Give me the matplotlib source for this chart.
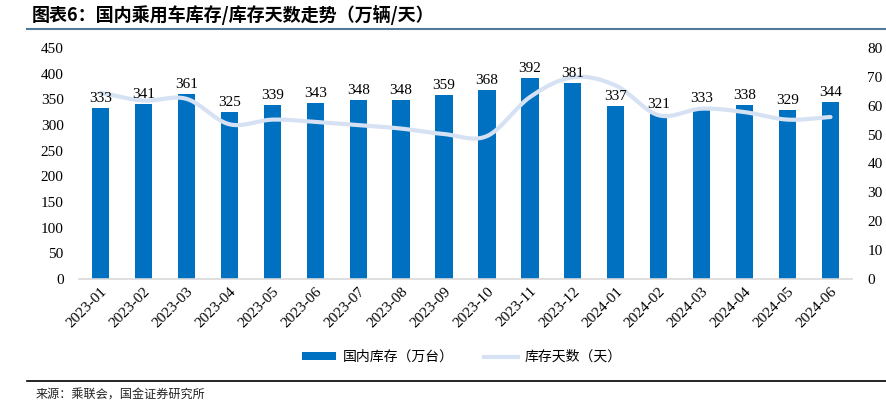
import numpy as np
import matplotlib
matplotlib.use("Agg")
import matplotlib.pyplot as plt
from matplotlib.lines import Line2D
from matplotlib.patches import Patch

months = ["2023-01","2023-02","2023-03","2023-04","2023-05","2023-06","2023-07","2023-08","2023-09",
          "2023-10","2023-11","2023-12","2024-01","2024-02","2024-03","2024-04","2024-05","2024-06"]
inventory = [333, 341, 361, 325, 339, 343, 348, 348, 359, 368, 392, 381, 337, 321, 333, 338, 329, 344]
days = [64.5, 61.8, 62.4, 53.6, 55.2, 54.4, 53.3, 52.1, 50.2, 49.5, 63.0, 69.9, 67.0, 56.7, 59.0, 57.8, 55.2, 56.1]
left_ticks = [0, 50, 100, 150, 200, 250, 300, 350, 400, 450]
right_ticks = [0, 10, 20, 30, 40, 50, 60, 70, 80]

title = "图表6：国内乘用车库存/库存天数走势（万辆/天）"
source = "来源：乘联会，国金证券研究所"
bar_label = "国内库存（万台）"
line_label = "库存天数（天）"

BAR = "#0070C0"
LINE = "#D6E2F3"
serif = ["Liberation Serif", "DejaVu Serif"]
cjk = ["Noto Sans CJK SC", "DejaVu Sans"]
FS = 11

def catmull_rom(x, y, n=20):
    x = np.asarray(x, float); y = np.asarray(y, float)
    px = np.concatenate([[2*x[0]-x[1]], x, [2*x[-1]-x[-2]]])
    py = np.concatenate([[2*y[0]-y[1]], y, [2*y[-1]-y[-2]]])
    xs, ys = [], []
    for i in range(1, len(px)-2):
        t = np.linspace(0, 1, n, endpoint=False)
        for arr, out in ((px, xs), (py, ys)):
            p0, p1, p2, p3 = arr[i-1], arr[i], arr[i+1], arr[i+2]
            out.extend(0.5*((2*p1) + (-p0+p2)*t + (2*p0-5*p1+4*p2-p3)*t**2 + (-p0+3*p1-3*p2+p3)*t**3))
    xs.append(x[-1]); ys.append(y[-1])
    return np.array(xs), np.array(ys)

fig = plt.figure(figsize=(8.86, 4.07), dpi=100)
ax = fig.add_axes([79/886, 1-279/407, (852-79)/886, (279-48)/407])
x = np.arange(len(months))
ax.bar(x, inventory, width=0.4, color=BAR, zorder=2)
ax.set_xlim(-0.5, len(months)-0.5)
ax.set_ylim(0, 450)
ax.set_yticks(left_ticks)
ax.set_xticks(x)
ax.set_xticklabels(months, rotation=45, ha="right", rotation_mode="anchor", fontfamily=serif, fontsize=FS)
for lab in ax.get_yticklabels():
    lab.set_fontfamily(serif); lab.set_fontsize(FS)
ax.tick_params(axis="both", length=0, colors="#000000")
ax.tick_params(axis="y", pad=11)
ax.tick_params(axis="x", pad=4)
for s in ["top", "left", "right"]:
    ax.spines[s].set_visible(False)
ax.spines["bottom"].set_color("#D9D9D9")
ax.spines["bottom"].set_linewidth(1.2)

ax2 = ax.twinx()
ax2.set_ylim(0, 80)
ax2.set_yticks(right_ticks)
for lab in ax2.get_yticklabels():
    lab.set_fontfamily(serif); lab.set_fontsize(FS)
ax2.tick_params(axis="y", length=0, pad=11)
for s in ["top", "left", "right", "bottom"]:
    ax2.spines[s].set_visible(False)
sx, sy = catmull_rom(x, days)
ax2.plot(sx, sy, color=LINE, linewidth=3.0, solid_capstyle="round", zorder=3)

# data labels drawn above the line
for xi, v in zip(x, inventory):
    ax2.text(xi, v + 6, str(v), transform=ax.transData, ha="center", va="bottom",
             fontfamily=serif, fontsize=FS, zorder=5)

# title and rules
fig.text(32/886, 1-15/407, title, fontfamily=cjk, fontsize=13, fontweight="bold",
         ha="left", va="center", color="#000000")
fig.add_artist(Line2D([27/886, 1.0], [1-29/407, 1-29/407], color="#4F7A9A", linewidth=1.5))
fig.add_artist(Line2D([27/886, 1.0], [1-381/407, 1-381/407], color="#000000", linewidth=1.2))
fig.text(36/886, 1-395/407, source, fontfamily=cjk, fontsize=8.7, ha="left", va="center", color="#222222")

handles = [Patch(facecolor=BAR, edgecolor="none"),
           Line2D([0], [0], color=LINE, linewidth=3.0)]
fig.legend(handles, [bar_label, line_label], loc="center", bbox_to_anchor=(462/886, 1-357/407),
           ncol=2, frameon=False, prop={"family": cjk, "size": 10},
           handlelength=2.4, handleheight=0.5, columnspacing=2.2, handletextpad=0.5)

fig.savefig("out.png", dpi=100)
